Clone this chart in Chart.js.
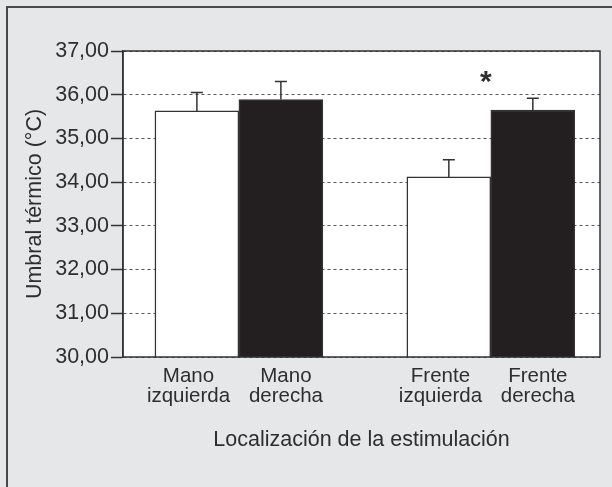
<!DOCTYPE html>
<html><head><meta charset="utf-8">
<script src="https://cdn.jsdelivr.net/npm/chart.js@4/dist/chart.umd.min.js"></script>
<style>
html,body{margin:0;padding:0;background:#e6e7e9;width:612px;height:487px;overflow:hidden}
#frame{position:absolute;left:6px;top:6px;width:700px;height:600px;border-top:2px solid #4a4a4a;border-left:2px solid #4a4a4a}
#wrap{position:absolute;left:0;top:0;width:612px;height:487px}
</style></head><body>
<div id="frame"></div>
<div id="wrap"><canvas id="c" width="612" height="487"></canvas></div>
<script>
// ---- data ----
const categories = [["Mano","izquierda"],["Mano","derecha"],["Frente","izquierda"],["Frente","derecha"]];
const slots = [1, 2, 4, 5];                 // category slot index (gap between groups)
const means = [35.63, 35.89, 34.12, 35.65];
const errors = [0.42, 0.41, 0.39, 0.27];
const yTicks = [30, 31, 32, 33, 34, 35, 36, 37];
const sigSlot = [4.44];
const sigValue = [36.27];
const sigLabel = ["*"];

// layout: labels of each pair are spread slightly apart from the bar centres
const LABEL_SPREAD = [-0.1, 0.06];
const labelSlots = slots.map((s, i) => s + LABEL_SPREAD[i % 2]);

const FONT = "'Liberation Sans', Arial, Helvetica, sans-serif";
const TXT = '#2e2e2e';
const FS = 21.5;
const barColors = ['#ffffff', '#231f20', '#ffffff', '#231f20'];

const extras = {
  id: 'extras',
  beforeDraw(chart) {
    const {ctx, chartArea: a} = chart;
    ctx.save();
    ctx.fillStyle = '#ffffff';
    ctx.fillRect(a.left, a.top, a.right - a.left, a.bottom - a.top);
    ctx.restore();
  },
  afterDatasetsDraw(chart) {
    const {ctx, chartArea: a, scales: {x, y}} = chart;
    ctx.save();
    ctx.strokeStyle = '#333';
    ctx.lineWidth = 1.5;
    ctx.setLineDash([]);
    // error bars (upper only)
    slots.forEach((s, i) => {
      const px = x.getPixelForValue(s);
      const y0 = y.getPixelForValue(means[i]);
      const y1 = y.getPixelForValue(means[i] + errors[i]);
      ctx.beginPath();
      ctx.moveTo(px, y0); ctx.lineTo(px, y1);
      ctx.moveTo(px - 6, y1); ctx.lineTo(px + 6, y1);
      ctx.stroke();
    });
    // plot box
    ctx.strokeRect(a.left, a.top, a.right - a.left, a.bottom - a.top);
    // significance marker
    ctx.fillStyle = TXT;
    ctx.font = 'bold 30px ' + FONT;
    ctx.textAlign = 'center';
    ctx.textBaseline = 'middle';
    sigSlot.forEach((s, i) => {
      ctx.fillText(sigLabel[i], x.getPixelForValue(s), y.getPixelForValue(sigValue[i]));
    });
    ctx.restore();
  }
};

new Chart(document.getElementById('c'), {
  type: 'bar',
  data: {
    datasets: [{
      data: slots.map((s, i) => ({x: s, y: means[i]})),
      backgroundColor: barColors,
      borderColor: '#333',
      borderWidth: 1.5,
      barPercentage: 1,
      categoryPercentage: 1
    }]
  },
  options: {
    responsive: false,
    animation: false,
    devicePixelRatio: 1,
    layout: {padding: {left: 0, top: 51, right: 12, bottom: 0}},
    plugins: {legend: {display: false}, tooltip: {enabled: false}},
    scales: {
      x: {
        type: 'linear', min: 0.12, max: 5.8, offset: false,
        grid: {display: false, drawTicks: false},
        border: {display: false},
        afterBuildTicks: s => { s.ticks = labelSlots.map(v => ({value: v})); },
        afterFit: s => { s.height = 130; },
        ticks: {
          autoSkip: false, maxRotation: 0, padding: 9, color: TXT,
          font: {family: FONT, size: 20.5, lineHeight: '20px'},
          callback: v => { const i = labelSlots.indexOf(v); return i >= 0 ? categories[i] : ''; }
        },
        title: {display: true, text: 'Localización de la estimulación', color: TXT,
                font: {family: FONT, size: FS, lineHeight: '24px'}, padding: {top: 0, bottom: 35}}
      },
      y: {
        min: 30, max: 37,
        afterBuildTicks: s => { s.ticks = yTicks.map(v => ({value: v})); },
        afterFit: s => { s.width = 123; },
        grid: {color: '#555', lineWidth: 1, tickColor: '#333', tickWidth: 1.5, tickLength: 12, tickBorderDash: []},
        border: {display: true, color: '#333', width: 1.5, dash: [3, 3]},
        ticks: {padding: 2, color: TXT, font: {family: FONT, size: FS},
                callback: v => v.toFixed(2).replace('.', ',')},
        title: {display: true, text: 'Umbral térmico (°C)', color: TXT,
                font: {family: FONT, size: FS, lineHeight: '24px'}, padding: {top: 23, bottom: 0}}
      }
    }
  },
  plugins: [extras]
});
</script>
</body></html>
